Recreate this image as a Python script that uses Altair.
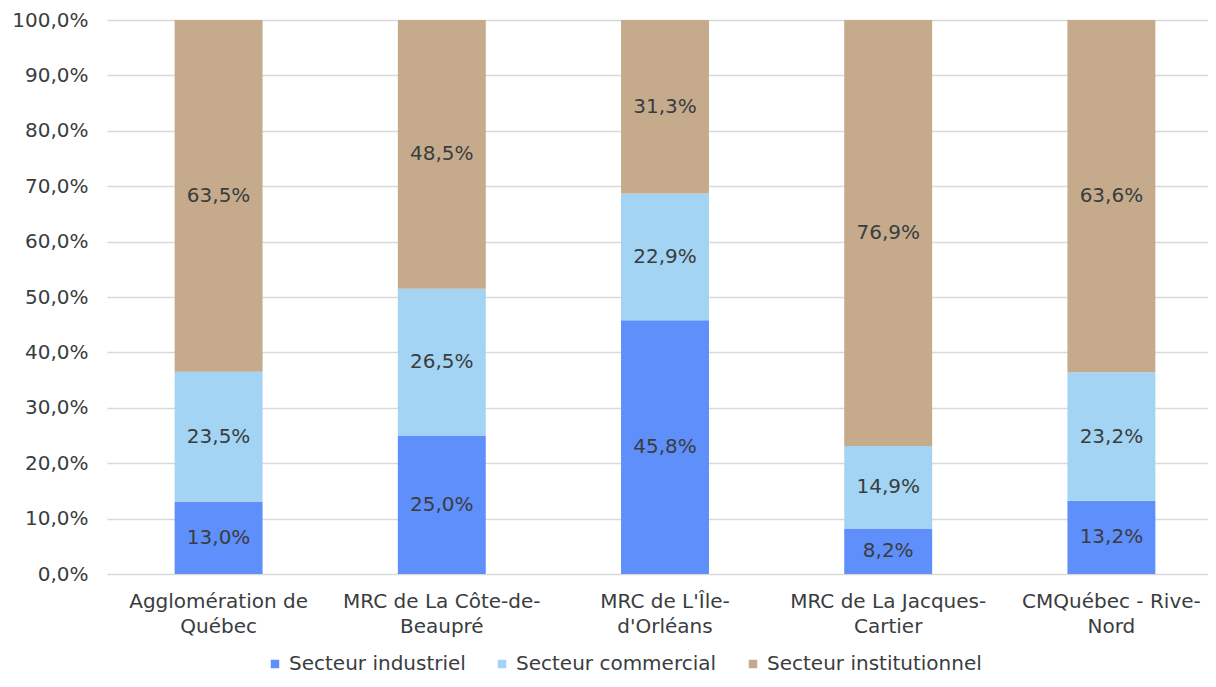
import altair as alt
import pandas as pd

categories = [
    "Agglomération de|Québec",
    "MRC de La Côte-de-|Beaupré",
    "MRC de L'Île-|d'Orléans",
    "MRC de La Jacques-|Cartier",
    "CMQuébec - Rive-|Nord",
]
series = ["Secteur industriel", "Secteur commercial", "Secteur institutionnel"]
industriel = [13.0, 25.0, 45.8, 8.2, 13.2]
commercial = [23.5, 26.5, 22.9, 14.9, 23.2]
institutionnel = [63.5, 48.5, 31.3, 76.9, 63.6]
colors = ["#5f8ffb", "#a4d4f3", "#c5ab8b"]

rows = []
for i, c in enumerate(categories):
    for k, (s, vals) in enumerate(zip(series, [industriel, commercial, institutionnel])):
        v = vals[i]
        rows.append({"cat": c, "serie": s, "ord": k, "value": v,
                     "label": f"{v:.1f}".replace(".", ",") + "%"})
df = pd.DataFrame(rows)

FONT = "DejaVu Sans"
TXT = "#3a3d40"

xenc = alt.X("cat:N", sort=categories, title=None,
             scale=alt.Scale(range=[0, 1116], paddingInner=0.606, paddingOuter=0.303),
             axis=alt.Axis(labelAngle=0, labelExpr="split(datum.label, '|')",
                           labelFontSize=20, labelColor=TXT, labelFont=FONT,
                           labelPadding=17, labelLineHeight=25, ticks=False,
                           domain=False, grid=False, labelLimit=300))

base = alt.Chart(df).transform_stack(
    stack="value", groupby=["cat"], as_=["y0", "y1"], sort=[alt.SortField("ord")]
).transform_calculate(mid="(datum.y0 + datum.y1) / 2")

bars = base.mark_bar().encode(
    x=xenc,
    y=alt.Y("y0:Q", title=None, scale=alt.Scale(domain=[0, 100], nice=False),
            axis=alt.Axis(values=list(range(0, 101, 10)),
                          labelExpr="replace(format(datum.value, '.1f'), '.', ',') + '%'",
                          labelFontSize=20, labelColor=TXT, labelFont=FONT,
                          labelPadding=19, ticks=False, domain=False,
                          grid=True, gridColor="#d9d9d9", gridWidth=1.5)),
    y2="y1:Q",
    color=alt.Color("serie:N", sort=series,
                    scale=alt.Scale(domain=series, range=colors),
                    legend=alt.Legend(title=None, orient="none", direction="horizontal",
                                      legendX=158, legendY=634, padding=0,
                                      labelFontSize=20, labelFont=FONT, labelColor=TXT,
                                      labelLimit=0,
                                      symbolType="square", symbolSize=72,
                                      symbolStrokeWidth=0, columnPadding=26,
                                      labelOffset=4)),
    order=alt.Order("ord:Q"),
)

texts = base.mark_text(fontSize=20, font=FONT, color=TXT).encode(
    x=alt.X("cat:N", sort=categories),
    y=alt.Y("mid:Q"),
    text="label:N",
)

chart = (bars + texts).properties(
    width=1101, height=554,
    autosize=alt.AutoSizeParams(type="none"),
    padding={"left": 99, "top": 12, "right": 0, "bottom": 105},
).configure_view(stroke=None)

chart.save("out.html", embed_options={"renderer": "svg", "actions": False})
